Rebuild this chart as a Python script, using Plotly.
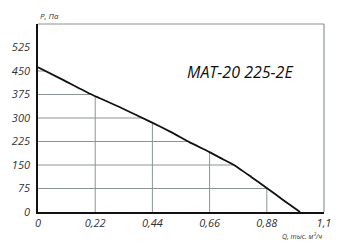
import numpy as np
import plotly.graph_objects as go

# Data
Q = [0, 0.10, 0.206, 0.321, 0.435, 0.512, 0.582, 0.66, 0.703, 0.754, 0.82, 0.881, 0.94, 1.008]
P = [462, 420, 375, 332, 287, 255, 223, 191, 172, 150, 112, 76, 40, 0]
x_ticks = [0, 0.22, 0.44, 0.66, 0.88, 1.1]
x_labels = ["0", "0,22", "0,44", "0,66", "0,88", "1,1"]
y_ticks = [0, 75, 150, 225, 300, 375, 450, 525]
y_labels = ["0", "75", "150", "225", "300", "375", "450", "525"]
title_text = "MAT-20 225-2E"
x_title = "Q, тыс. м³/ч"
y_title = "P, Па"

GRID = "#8c9494"
FONT = "Open Sans"

fig = go.Figure()

# Grid lines only below the curve
Qa = np.array(Q); Pa = np.array(P)
for q in x_ticks[1:-1]:
    top = float(np.interp(q, Qa, Pa))
    fig.add_trace(go.Scatter(x=[q, q], y=[0, top], mode="lines",
                             line=dict(color=GRID, width=1), hoverinfo="skip", showlegend=False))
for p in y_ticks[1:]:
    if p < Pa[0]:
        right = float(np.interp(p, Pa[::-1], Qa[::-1]))
        fig.add_trace(go.Scatter(x=[0, right], y=[p, p], mode="lines",
                                 line=dict(color=GRID, width=1), hoverinfo="skip", showlegend=False))

fig.add_trace(go.Scatter(x=Q, y=P, mode="lines",
                         line=dict(color="#111111", width=1.8, shape="spline", smoothing=0.4),
                         showlegend=False))

fig.update_layout(
    width=354, height=250,
    margin=dict(l=36, r=30, t=24, b=38),
    paper_bgcolor="white", plot_bgcolor="white",
    xaxis=dict(range=[0, 1.1], tickvals=x_ticks, ticktext=x_labels, showgrid=False,
               zeroline=False, showline=True, linecolor="#111111", linewidth=1.5,
               ticks="", tickfont=dict(family=FONT, size=11, color="#333333", style="italic")),
    yaxis=dict(range=[0, 600], tickvals=y_ticks, ticktext=y_labels, showgrid=False,
               zeroline=False, showline=True, linecolor="#111111", linewidth=1.5,
               ticks="", ticklabelstandoff=4,
               tickfont=dict(family=FONT, size=11, color="#333333", style="italic")),
    shapes=[
        dict(type="line", xref="x domain", yref="y domain", x0=0, x1=1, y0=1, y1=1,
             line=dict(color=GRID, width=1.2)),
        dict(type="line", xref="x domain", yref="y domain", x0=1, x1=1, y0=0, y1=1,
             line=dict(color=GRID, width=1.2)),
    ],
    annotations=[
        dict(text=title_text, xref="paper", yref="paper", x=0.705, y=0.745,
             xanchor="center", yanchor="middle", showarrow=False,
             font=dict(family=FONT, size=16, color="#111111", style="italic")),
        dict(text=y_title, xref="paper", yref="paper", x=0.0, y=1.0, xanchor="left",
             yanchor="bottom", yshift=1, showarrow=False,
             font=dict(family=FONT, size=8, color="#333333", style="italic")),
        dict(text=x_title, xref="paper", yref="paper", x=1.0, y=0, xanchor="right",
             yanchor="top", yshift=-18, showarrow=False,
             font=dict(family=FONT, size=7, color="#333333", style="italic")),
    ],
)

fig.write_html("out.html")
